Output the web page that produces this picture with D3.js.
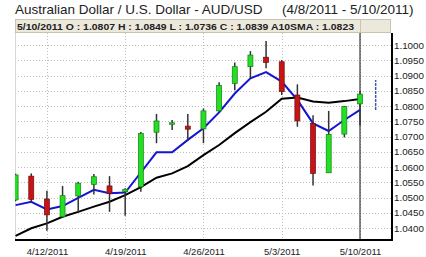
<!DOCTYPE html>
<html>
<head>
<meta charset="utf-8">
<script src="https://cdn.jsdelivr.net/npm/d3@7"></script>
<style>
  body { margin: 0; background: #fff; }
  svg { display: block; font-family: "Liberation Sans", Arial, sans-serif; }
</style>
</head>
<body>
<svg id="chart"></svg>
<script>
const dates = ["4/8/2011", "4/11/2011", "4/12/2011", "4/13/2011", "4/14/2011", "4/15/2011",
  "4/18/2011", "4/19/2011", "4/20/2011", "4/21/2011", "4/22/2011", "4/25/2011",
  "4/26/2011", "4/27/2011", "4/28/2011", "4/29/2011", "5/2/2011", "5/3/2011",
  "5/4/2011", "5/5/2011", "5/6/2011", "5/9/2011", "5/10/2011"];
const opens  = [1.0492, 1.0570, 1.0495, 1.0437, 1.0505, 1.0543, 1.0538, 1.0519, 1.0535, 1.0714, 1.0744, 1.0734,
  1.0725, 1.0784, 1.0874, 1.0929, 1.0960, 1.0945, 1.0836, 1.0743, 1.0581, 1.0708, 1.0807];
const highs  = [1.0578, 1.0579, 1.0522, 1.0538, 1.0552, 1.0577, 1.0570, 1.0530, 1.0715, 1.0774, 1.0754, 1.0774,
  1.0792, 1.0878, 1.0943, 1.0980, 1.1013, 1.0951, 1.0871, 1.0770, 1.0784, 1.0800, 1.0849];
const lows   = [1.0488, 1.0486, 1.0391, 1.0433, 1.0453, 1.0510, 1.0453, 1.0440, 1.0519, 1.0678, 1.0721, 1.0685,
  1.0678, 1.0781, 1.0852, 1.0891, 1.0924, 1.0836, 1.0732, 1.0539, 1.0581, 1.0697, 1.0736];
const closes = [1.0574, 1.0494, 1.0443, 1.0506, 1.0547, 1.0568, 1.0514, 1.0527, 1.0710, 1.0751, 1.0745, 1.0724,
  1.0784, 1.0867, 1.0929, 1.0967, 1.0943, 1.0847, 1.0751, 1.0579, 1.0707, 1.0798, 1.0839];
const fastMA = [1.0475, 1.0486, 1.0461, 1.0472, 1.0499, 1.0525, 1.0514, 1.0516, 1.0582, 1.0648, 1.0648, 1.0689,
  1.0727, 1.0779, 1.0841, 1.0891, 1.0911, 1.0880, 1.0820, 1.0743, 1.0718, 1.0754, 1.0787];
const sma10 = [1.0374, 1.0399, 1.0415, 1.0437, 1.0453, 1.0470, 1.0486, 1.0508, 1.0534, 1.0565, 1.0579, 1.0603,
  1.0639, 1.0672, 1.0711, 1.0747, 1.0781, 1.0824, 1.0828, 1.0815, 1.0811, 1.0816, 1.0823];
const projection = [1.0787, 1.0885];
const yTicks = [1.04, 1.045, 1.05, 1.055, 1.06, 1.065, 1.07, 1.075, 1.08, 1.085, 1.09, 1.095, 1.10];
const xTickIdx = [2, 7, 12, 17, 22];

const width = 426, height = 257;
const plot = { left: 15, right: 392, top: 33, bottom: 240 };
const cursorIdx = dates.length - 1;

const svg = d3.select("#chart").attr("width", width).attr("height", height);

const x = d3.scaleLinear().domain([0, dates.length - 1]).range([15.6, 360]);
const y = d3.scaleLinear().domain([1.04, 1.10]).range([228, 45]);

const candles = dates.map((d, i) => ({
  i, date: d, open: opens[i], high: highs[i], low: lows[i], close: closes[i]
}));

// title
svg.append("text")
  .attr("x", 15).attr("y", 14)
  .attr("font-size", 13.5).attr("fill", "#222")
  .text("Australian Dollar / U.S. Dollar -  AUD/USD");
svg.append("text")
  .attr("x", 282).attr("y", 14)
  .attr("font-size", 13.5).attr("fill", "#222")
  .text(`(${dates[0]} - ${dates[cursorIdx]})`);

// info bar
const f4 = d3.format(".4f");
svg.append("rect")
  .attr("x", 15.5).attr("y", 19.5).attr("width", 375).attr("height", 13)
  .attr("fill", "#ece9dc").attr("stroke", "#c8c4b4");
svg.append("line")
  .attr("x1", 360.5).attr("x2", 360.5).attr("y1", 19.5).attr("y2", 32.5)
  .attr("stroke", "#c8c4b4");
const last = candles[cursorIdx];
svg.append("text")
  .attr("x", 17).attr("y", 29.5)
  .attr("font-size", 9).attr("font-weight", "bold").attr("fill", "#222")
  .attr("textLength", 337).attr("lengthAdjust", "spacingAndGlyphs")
  .text(`${last.date} O : ${f4(last.open)} H : ${f4(last.high)} L : ${f4(last.low)} C : ${f4(last.close)} A10SMA : ${f4(sma10[cursorIdx])}`);

// grid
const grid = svg.append("g").attr("stroke", "#bdbdbd").attr("stroke-dasharray", "1,2");
grid.selectAll("line.h").data(yTicks).join("line")
  .attr("x1", plot.left).attr("x2", plot.right)
  .attr("y1", d => Math.round(y(d)) + 0.5).attr("y2", d => Math.round(y(d)) + 0.5);
grid.selectAll("line.v").data(xTickIdx).join("line")
  .attr("x1", d => Math.round(x(d)) + 0.5).attr("x2", d => Math.round(x(d)) + 0.5)
  .attr("y1", plot.top).attr("y2", plot.bottom);

svg.append("line")
  .attr("x1", plot.left + 0.5).attr("x2", plot.left + 0.5)
  .attr("y1", plot.top).attr("y2", plot.bottom)
  .attr("stroke", "#d8d8d8");

svg.append("clipPath").attr("id", "clip").append("rect")
  .attr("x", plot.left).attr("y", plot.top)
  .attr("width", plot.right - plot.left).attr("height", plot.bottom - plot.top);

const g = svg.append("g").attr("clip-path", "url(#clip)");

// cursor line
g.append("line")
  .attr("x1", x(cursorIdx)).attr("x2", x(cursorIdx))
  .attr("y1", plot.top).attr("y2", plot.bottom)
  .attr("stroke", "#111").attr("stroke-width", 1);

// moving averages
const line = (vals) => d3.line().x((d, i) => x(i)).y(d => y(d))(vals);
g.append("path").attr("d", line(sma10))
  .attr("fill", "none").attr("stroke", "#000").attr("stroke-width", 2);
g.append("path").attr("d", line(fastMA))
  .attr("fill", "none").attr("stroke", "#1414d2").attr("stroke-width", 2);

// candles
const bw = 5;
const cg = g.selectAll("g.candle").data(candles).join("g").attr("class", "candle");
cg.append("line")
  .attr("x1", d => x(d.i)).attr("x2", d => x(d.i))
  .attr("y1", d => y(d.high)).attr("y2", d => y(d.low))
  .attr("stroke", "#333").attr("stroke-width", 1.5);
cg.append("rect")
  .attr("x", d => x(d.i) - bw / 2)
  .attr("y", d => y(Math.max(d.open, d.close)))
  .attr("width", bw)
  .attr("height", d => Math.max(1.5, Math.abs(y(d.open) - y(d.close))))
  .attr("fill", d => d.close >= d.open ? "#22e022" : "#c81414")
  .attr("stroke", d => d.close >= d.open ? "#1a7a1a" : "#6a1010")
  .attr("stroke-width", 0.7);

// projection range
g.append("line")
  .attr("x1", x(cursorIdx + 1)).attr("x2", x(cursorIdx + 1))
  .attr("y1", y(projection[0])).attr("y2", y(projection[1]))
  .attr("stroke", "#3a5aa8").attr("stroke-width", 1.5)
  .attr("stroke-dasharray", "3,1");

// axes
const yAxis = svg.append("g")
  .attr("transform", `translate(${plot.right},0)`)
  .call(d3.axisRight(y).tickValues(yTicks).tickFormat(d3.format(".4f")).tickSize(0).tickPadding(2));
yAxis.select(".domain").remove();
yAxis.selectAll("text").attr("font-size", 9.8).attr("fill", "#222")
  .attr("font-family", "Liberation Sans, Arial, sans-serif");
svg.append("line")
  .attr("x1", plot.right).attr("x2", plot.right)
  .attr("y1", plot.top).attr("y2", plot.bottom + 1)
  .attr("stroke", "#000").attr("stroke-width", 2);

const xAxis = svg.append("g")
  .attr("transform", `translate(0,${plot.bottom})`)
  .call(d3.axisBottom(x).tickValues(xTickIdx).tickFormat(i => dates[i]).tickSize(0).tickPadding(8));
xAxis.select(".domain").remove();
xAxis.selectAll("text").attr("font-size", 9.5).attr("fill", "#222")
  .attr("font-family", "Liberation Sans, Arial, sans-serif");
svg.append("line")
  .attr("x1", plot.left).attr("x2", plot.right + 1)
  .attr("y1", plot.bottom).attr("y2", plot.bottom)
  .attr("stroke", "#000").attr("stroke-width", 2);
</script>
</body>
</html>
